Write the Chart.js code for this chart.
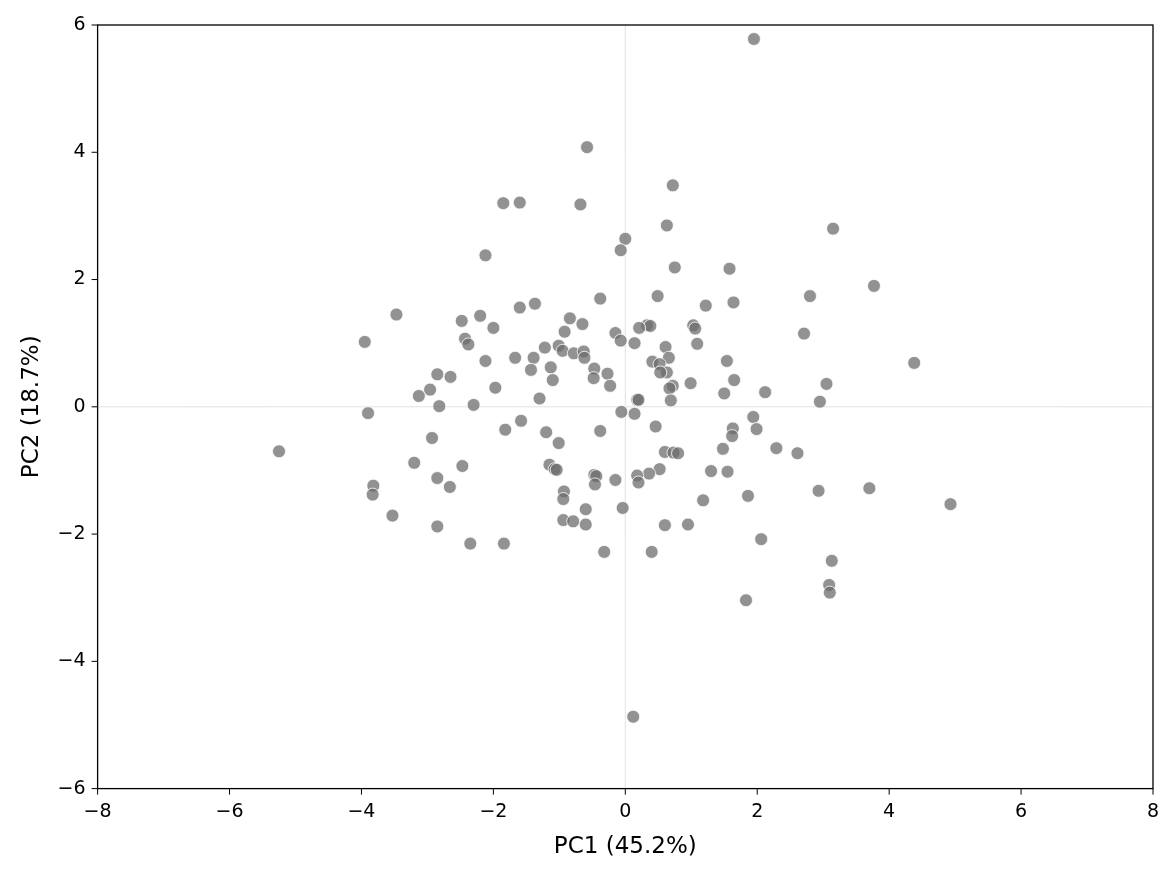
<!DOCTYPE html>
<html><head><meta charset="utf-8">
<script src="https://cdn.jsdelivr.net/npm/chart.js@4/dist/chart.umd.min.js"></script>
<style>html,body{margin:0;padding:0;background:#fff}#w{width:1175px;height:875px}</style>
</head><body><div id="w"><canvas id="c"></canvas></div>
<script>
const pc1 = [1.95,-0.58,0.72,-1.85,-1.6,-0.68,0.63,3.15,0.0,-0.07,-2.12,0.75,1.58,3.77,2.8,0.49,-0.38,1.64,1.22,-1.37,-1.6,-3.47,-2.2,-2.48,-0.84,-0.65,-2.0,0.33,0.38,1.03,1.06,0.21,-0.92,-0.15,2.71,-2.43,-2.38,-3.95,-0.07,0.14,1.09,-1.22,-1.01,0.61,-0.95,-0.78,-0.63,-0.62,-1.67,-1.39,0.66,-2.12,0.41,1.54,4.38,0.52,-1.13,-0.47,-1.43,0.63,0.53,-2.85,-0.27,-2.65,-0.48,-1.1,1.65,0.99,3.05,-0.23,0.72,-1.97,0.67,-2.96,2.12,1.5,-3.13,-1.3,0.18,0.2,0.69,2.95,-2.3,-2.82,-3.9,-0.06,0.14,1.94,-1.58,0.46,1.63,1.99,-1.82,-0.38,-1.2,1.62,-2.93,-1.01,2.29,1.48,-5.25,0.6,0.73,0.8,2.61,-3.2,-1.15,-2.47,-1.07,-1.04,0.52,1.3,1.55,0.36,-0.47,-0.44,0.18,-2.85,-0.15,0.2,-0.46,-3.82,-2.66,3.7,2.93,-0.93,-3.83,1.86,-0.94,1.18,4.93,-0.04,-0.6,-3.53,-0.94,-0.79,-0.6,0.6,0.95,-2.85,2.06,-2.35,-1.84,-0.32,0.4,3.13,3.09,3.1,1.83,0.12];
const pc2 = [5.78,4.08,3.48,3.2,3.21,3.18,2.85,2.8,2.64,2.46,2.38,2.19,2.17,1.9,1.74,1.74,1.7,1.64,1.59,1.62,1.56,1.45,1.43,1.35,1.39,1.3,1.24,1.28,1.27,1.28,1.23,1.24,1.18,1.16,1.15,1.07,0.98,1.02,1.04,1.0,0.99,0.93,0.96,0.94,0.88,0.84,0.87,0.77,0.77,0.77,0.77,0.72,0.71,0.72,0.69,0.67,0.62,0.6,0.58,0.54,0.54,0.51,0.52,0.47,0.45,0.42,0.42,0.37,0.36,0.33,0.33,0.3,0.29,0.27,0.23,0.21,0.17,0.13,0.11,0.11,0.1,0.08,0.03,0.01,-0.1,-0.08,-0.11,-0.16,-0.22,-0.31,-0.34,-0.35,-0.36,-0.38,-0.4,-0.46,-0.49,-0.57,-0.65,-0.66,-0.7,-0.71,-0.72,-0.73,-0.73,-0.88,-0.91,-0.93,-0.98,-0.99,-0.98,-1.01,-1.02,-1.05,-1.07,-1.09,-1.08,-1.12,-1.15,-1.19,-1.22,-1.24,-1.26,-1.28,-1.32,-1.33,-1.38,-1.4,-1.45,-1.47,-1.53,-1.59,-1.61,-1.71,-1.78,-1.8,-1.85,-1.86,-1.85,-1.88,-2.08,-2.15,-2.15,-2.28,-2.28,-2.42,-2.8,-2.92,-3.04,-4.87];
const xTicks=[-8,-6,-4,-2,0,2,4,6,8], yTicks=[-6,-4,-2,0,2,4,6];
const fmt=v=>String(v).replace('-','\u2212');
const frame={id:'frame',afterDraw(ch){const a=ch.chartArea,c=ch.ctx;c.save();c.strokeStyle='#000';c.lineWidth=1.3;c.strokeRect(a.left,a.top,a.right-a.left,a.bottom-a.top);c.restore();}};
const zl={id:'zl',beforeDatasetsDraw(ch){const c=ch.ctx,a=ch.chartArea,x=ch.scales.x.getPixelForValue(0),y=ch.scales.y.getPixelForValue(0);c.save();c.strokeStyle='#d9d9d9';c.lineWidth=0.8;c.beginPath();c.moveTo(x,a.top);c.lineTo(x,a.bottom);c.moveTo(a.left,y);c.lineTo(a.right,y);c.stroke();c.restore();}};
Chart.defaults.font.family='DejaVu Sans';
new Chart(document.getElementById('c'),{type:'scatter',
data:{datasets:[{data:pc1.map((x,i)=>({x,y:pc2[i]})),backgroundColor:'rgba(110,110,110,0.75)',borderColor:'#fff',borderWidth:0.8,pointRadius:6.5,pointHoverRadius:6.5}]},
options:{responsive:true,maintainAspectRatio:false,animation:false,devicePixelRatio:1,
layout:{padding:{top:25,right:22,left:14,bottom:10}},
plugins:{legend:{display:false},tooltip:{enabled:false}},
scales:{
x:{min:-8,max:8,afterBuildTicks:s=>{s.ticks=xTicks.map(v=>({value:v}))},grid:{display:false},border:{display:false},
 ticks:{color:'#000',font:{size:19},callback:v=>fmt(v),padding:4},
 title:{display:true,text:'PC1 (45.2%)',color:'#000',font:{size:23},padding:{top:6}}},
y:{min:-6,max:6,afterBuildTicks:s=>{s.ticks=yTicks.map(v=>({value:v}))},grid:{display:false},border:{display:false},
 ticks:{color:'#000',font:{size:19},callback:v=>fmt(v),padding:4},
 title:{display:true,text:'PC2 (18.7%)',color:'#000',font:{size:23},padding:{bottom:8}}}}},
plugins:[zl,frame,{id:'tk',afterDraw(ch){const c=ch.ctx,a=ch.chartArea;c.save();c.strokeStyle='#000';c.lineWidth=1;c.beginPath();xTicks.forEach(v=>{const x=ch.scales.x.getPixelForValue(v);c.moveTo(x,a.bottom);c.lineTo(x,a.bottom+6)});yTicks.forEach(v=>{const y=ch.scales.y.getPixelForValue(v);c.moveTo(a.left,y);c.lineTo(a.left-6,y)});c.stroke();c.restore();}}]
});
</script></body></html>
